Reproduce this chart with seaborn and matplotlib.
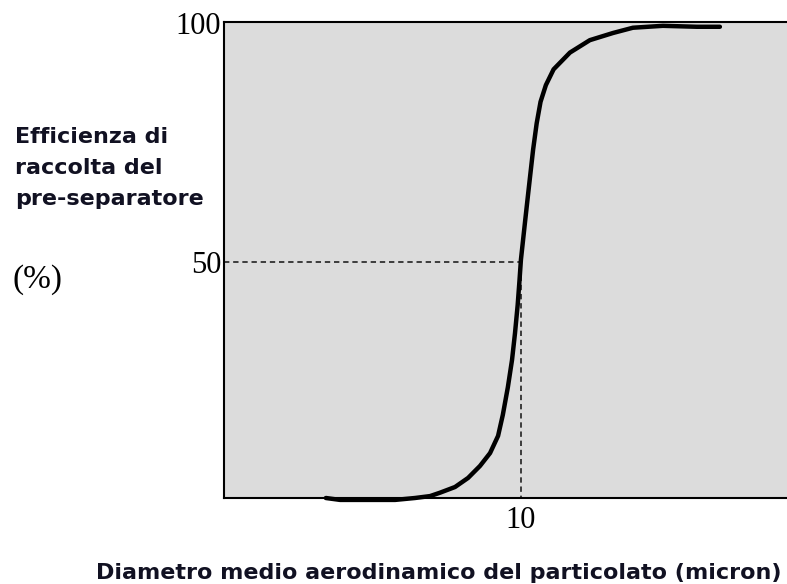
import matplotlib
matplotlib.use("Agg")
import matplotlib.pyplot as plt
import seaborn as sns
import pandas as pd

# particle diameter (micron) vs collection efficiency (%)
diameter = [3.43, 3.91, 5.76, 6.43, 6.94, 7.27, 7.78, 8.22, 8.62, 8.96, 9.23,
            9.39, 9.56, 9.70, 9.80, 9.89, 9.95, 10.00, 10.07, 10.14, 10.22,
            10.31, 10.41, 10.53, 10.66, 10.84, 11.10, 11.65, 12.32, 13.10,
            13.77, 14.78, 15.93, 16.70]
efficiency = [0.6, 0.2, 0.2, 0.6, 1.0, 1.7, 2.9, 4.8, 7.3, 10.0, 13.6,
              18.0, 23.8, 29.5, 35.1, 41.0, 46.0, 50.5, 54.5, 58.5, 63.0,
              68.0, 73.5, 79.0, 83.5, 87.0, 90.3, 93.8, 96.4, 97.9,
              99.0, 99.4, 99.2, 99.2]
cut_size = 10
cut_eff = 50
y_ticks = [50, 100]
x_ticks = [10]

ylabel_lines = ["Efficienza di", "raccolta del", "pre-separatore"]
ylabel_unit = "(%)"
xlabel = "Diametro medio aerodinamico del particolato (micron)"

W, H = 787, 584
sns.set_theme(style="white")
fig = plt.figure(figsize=(W / 100, H / 100), dpi=100)
ax = fig.add_axes([224 / W, 1 - 498 / H, 1 - 224 / W, (498 - 22) / H])
ax.set_facecolor("#dcdcdc")

df = pd.DataFrame({"d": diameter, "e": efficiency})
sns.lineplot(data=df, x="d", y="e", ax=ax, color="black", linewidth=3.2,
             sort=False, clip_on=False, zorder=3)

ax.plot([0, cut_size], [cut_eff, cut_eff], color="#111111", lw=1.1,
        ls=(0, (3.5, 2.5)), zorder=2)
ax.plot([cut_size, cut_size], [0, cut_eff], color="#111111", lw=1.1,
        ls=(0, (3.5, 2.5)), zorder=2)

ax.set_xlim(0, 18.96)
ax.set_ylim(0.6, 100.2)
ax.set_xticks(x_ticks)
ax.set_yticks(y_ticks)
ax.set_xticklabels([str(t) for t in x_ticks])
ax.set_yticklabels([str(t) for t in y_ticks])
ax.tick_params(length=0, labelsize=22, pad=2)
ax.tick_params(axis="x", pad=6)
for lab in ax.get_xticklabels() + ax.get_yticklabels():
    lab.set_family("Liberation Serif")
    lab.set_color("black")
ax.set_xlabel("")
ax.set_ylabel("")

for side in ["left", "top", "bottom"]:
    ax.spines[side].set_color("black")
    ax.spines[side].set_linewidth(1.5)
ax.spines["right"].set_visible(False)

for i, line in enumerate(ylabel_lines):
    fig.text(15 / W, 1 - (143 + 31 * i) / H, line, ha="left", va="baseline",
             family="DejaVu Sans", weight="bold", fontsize=16, color="#111122")
fig.text(12 / W, 1 - 280 / H, ylabel_unit, ha="left", va="center",
         family="Liberation Serif", fontsize=24, color="black")
fig.text(96 / W, 1 - 579 / H, xlabel, ha="left", va="baseline",
         family="DejaVu Sans", weight="bold", fontsize=16, color="#111122")

fig.savefig("out.png", dpi=100)
